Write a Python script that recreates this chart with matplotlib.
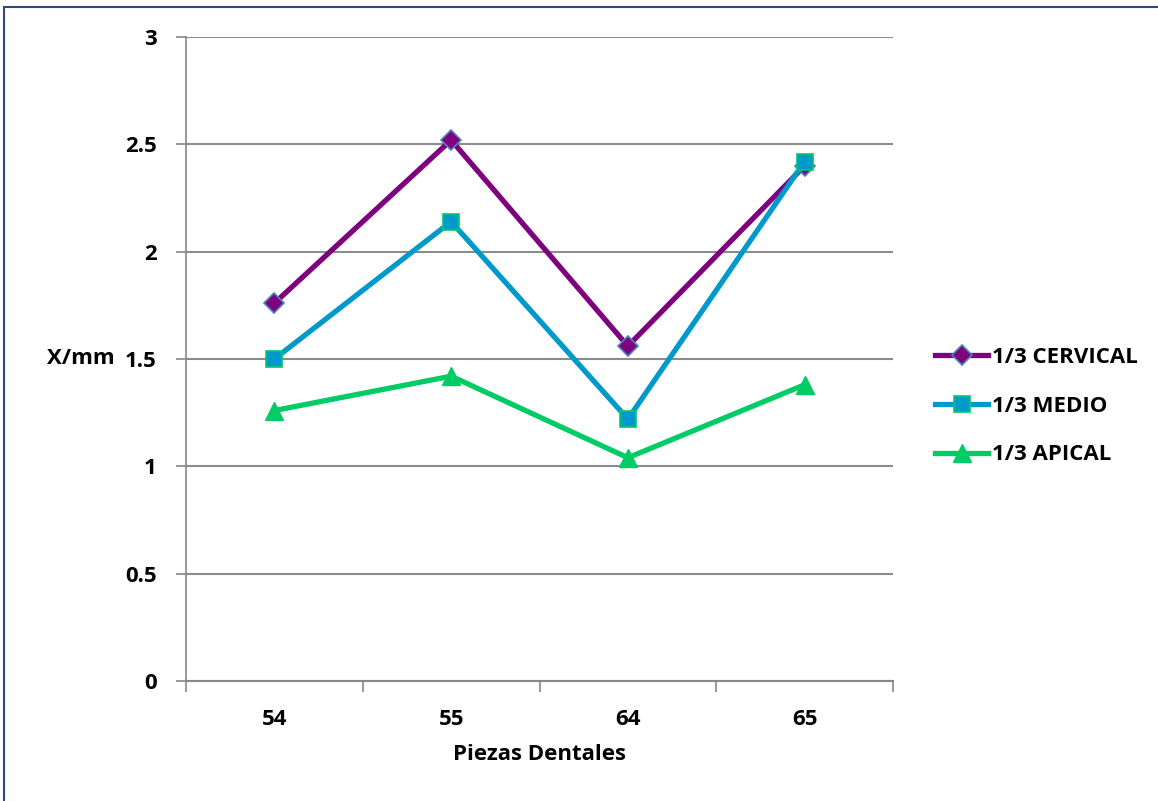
import matplotlib.pyplot as plt
from matplotlib.patches import Rectangle

# Datos
piezas = ['54', '55', '64', '65']
cervical = [1.76, 2.52, 1.56, 2.40]
medio = [1.50, 2.14, 1.22, 2.42]
apical = [1.26, 1.42, 1.04, 1.38]

plt.rcParams['font.family'] = ['Open Sans', 'DejaVu Sans']
plt.rcParams['font.weight'] = 'bold'

fig = plt.figure(figsize=(11.58, 8.01), dpi=100)
ax = fig.add_axes([186 / 1158, 120 / 801, 707 / 1158, 644 / 801])

x = list(range(len(piezas)))
ax.plot(x, cervical, color='#7F007F', lw=3.8, marker='D', ms=10,
        mfc='#7F007F', mec='#4F81BD', mew=1.2, label='1/3 CERVICAL', zorder=3)
ax.plot(x, medio, color='#0099CC', lw=3.8, marker='s', ms=12,
        mfc='#0099CC', mec='#00CC66', mew=1.2, label='1/3 MEDIO', zorder=4)
ax.plot(x, apical, color='#00CC66', lw=3.8, marker='^', ms=13,
        mfc='#00CC66', mec='#00CC66', label='1/3 APICAL', zorder=3)

ax.set_xlim(-0.5, 3.5)
ax.set_ylim(0, 3)
ax.set_yticks([0, 0.5, 1, 1.5, 2, 2.5, 3])
ax.set_yticklabels(['0', '0.5', '1', '1.5', '2', '2.5', '3'], fontweight='bold')
ax.set_xticks(x)
ax.set_xticklabels(piezas, fontweight='bold')
ax.set_xticks([-0.5, 0.5, 1.5, 2.5, 3.5], minor=True)
ax.tick_params(axis='x', which='major', length=0, pad=20, labelsize=16)
ax.tick_params(axis='x', which='minor', length=8, color='#888888', width=1.2)
ax.tick_params(axis='y', length=7, color='#888888', width=1.2, pad=14, labelsize=16)
ax.grid(axis='y', color='#8C8C8C', lw=1.5)
ax.set_axisbelow(True)
for s in ['top', 'right']:
    ax.spines[s].set_visible(False)
ax.spines['left'].set_color('#888888')
ax.spines['bottom'].set_color('#888888')
ax.spines['left'].set_linewidth(1.2)
ax.spines['bottom'].set_linewidth(1.5)

ax.set_xlabel('Piezas Dentales', fontsize=16, fontweight='bold', labelpad=10)
fig.text(47 / 1158, 1 - 358 / 801, 'X/mm', fontsize=16, fontweight='bold', va='center')

ax.legend(loc='center left', bbox_to_anchor=(915 / 1158, 1 - 406 / 801),
          bbox_transform=fig.transFigure, frameon=False,
          prop={'size': 16, 'weight': 'bold'},
          handlelength=2.4, labelspacing=1.25, handletextpad=0.15)

# marco de la figura
fig.patches.append(Rectangle((4 / 1158, -0.1), 1.2, 1 - 7 / 801 + 0.1,
                             transform=fig.transFigure, fill=False,
                             ec='#2E4A7D', lw=1.5))

fig.savefig('out.png', dpi=100)
